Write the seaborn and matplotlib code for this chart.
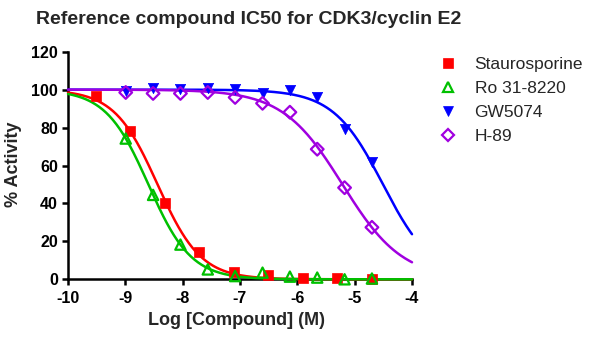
import numpy as np
import pandas as pd
import matplotlib
matplotlib.use("Agg")
import matplotlib.pyplot as plt
from matplotlib.lines import Line2D
import seaborn as sns

# ---- data ----
compounds = ["Staurosporine", "Ro 31-8220", "GW5074", "H-89"]

stauro_logc = [-9.515, -8.913, -8.311, -7.709, -7.107, -6.505, -5.903, -5.301, -4.699]
stauro_act = [96.8, 78.1, 40.1, 14.3, 3.8, 2.1, 0.9, 0.9, 0.4]

ro_logc = [-8.993, -8.516, -8.039, -7.562, -7.085, -6.607, -6.130, -5.653, -5.176, -4.699]
ro_act = [74.2, 44.5, 18.3, 5.2, 1.7, 3.5, 1.4, 0.9, 0.0, 0.4]

gw_logc = [-8.993, -8.516, -8.039, -7.562, -7.085, -6.607, -6.130, -5.653, -5.176, -4.699]
gw_act = [99.1, 100.9, 100.3, 100.9, 100.3, 98.0, 99.8, 95.9, 79.4, 61.9]

h89_logc = [-8.993, -8.516, -8.039, -7.562, -7.085, -6.607, -6.130, -5.653, -5.176, -4.699]
h89_act = [98.5, 98.0, 98.0, 98.5, 95.9, 92.8, 88.1, 68.6, 48.3, 27.4]

x_ticks = [-10, -9, -8, -7, -6, -5, -4]
y_ticks = [0, 20, 40, 60, 80, 100, 120]

colors = {"Staurosporine": "#FF0000", "Ro 31-8220": "#00C000",
          "GW5074": "#0000FF", "H-89": "#A000E0"}
markers = {"Staurosporine": "s", "Ro 31-8220": "^", "GW5074": "v", "H-89": "D"}
hollow = {"Staurosporine": False, "Ro 31-8220": True, "GW5074": False, "H-89": True}
msize = {"Staurosporine": 50, "Ro 31-8220": 55, "GW5074": 55, "H-89": 42}

points = pd.concat([
    pd.DataFrame({"compound": name, "logc": xs, "activity": ys})
    for name, xs, ys in [
        ("Staurosporine", stauro_logc, stauro_act),
        ("Ro 31-8220", ro_logc, ro_act),
        ("GW5074", gw_logc, gw_act),
        ("H-89", h89_logc, h89_act),
    ]
], ignore_index=True)


# ---- logistic dose-response fit (top 100, bottom 0) by grid search ----
def fit_curve(x, y, top=100.0):
    x = np.asarray(x)[None, None, :]
    y = np.asarray(y)
    cs = np.arange(-10.5, -3.0, 0.002)[:, None, None]
    hs = np.arange(0.5, 2.0, 0.005)[None, :, None]
    f = top / (1.0 + 10 ** (hs * (x - cs)))
    sse = ((f - y) ** 2).sum(-1)
    i, j = np.unravel_index(np.argmin(sse), sse.shape)
    return cs[i, 0, 0], hs[0, j, 0], top


xgrid = np.linspace(-10, -4, 300)
curves = []
for name in compounds:
    sub = points[points.compound == name]
    c, h, top = fit_curve(sub.logc.values, sub.activity.values)
    curves.append(pd.DataFrame({"compound": name, "logc": xgrid,
                                "activity": top / (1 + 10 ** (h * (xgrid - c)))}))
curves = pd.concat(curves, ignore_index=True)

# ---- plot ----
sns.set_theme(style="ticks")
plt.rcParams["font.family"] = ["Liberation Sans", "DejaVu Sans"]

fig = plt.figure(figsize=(6.0, 3.44), dpi=100)
ax = fig.add_axes([68 / 600, 1 - 279.3 / 344, (412 - 68) / 600, (279.3 - 51.7) / 344])

lw = 1.8
for name in compounds:
    sns.lineplot(data=curves[curves.compound == name], x="logc", y="activity",
                 color=colors[name], linewidth=lw, ax=ax, legend=False,
                 clip_on=False, zorder=4)
for name in compounds:
    sub = points[points.compound == name]
    if hollow[name]:
        sns.scatterplot(data=sub, x="logc", y="activity", marker=markers[name],
                        s=msize[name], facecolors="none", edgecolor=colors[name],
                        linewidth=1.6, ax=ax, legend=False, clip_on=False, zorder=5)
    else:
        sns.scatterplot(data=sub, x="logc", y="activity", marker=markers[name],
                        s=msize[name], color=colors[name], edgecolor=colors[name],
                        linewidth=0.5, ax=ax, legend=False, clip_on=False, zorder=5)

ax.set_xlim(-10, -4)
ax.set_ylim(0, 120)
ax.set_xticks(x_ticks)
ax.set_yticks(y_ticks)
ax.set_xticklabels([str(t) for t in x_ticks])
ax.set_yticklabels([str(t) for t in y_ticks])
for side in ["top", "right"]:
    ax.spines[side].set_visible(False)
for side in ["left", "bottom"]:
    ax.spines[side].set_linewidth(lw)
    ax.spines[side].set_color("black")
    ax.spines[side].set_zorder(3)
ax.tick_params(axis="both", direction="out", length=4.3, width=lw, color="black",
               labelsize=11.5, labelcolor="black")
ax.tick_params(axis="x", pad=4)
ax.tick_params(axis="y", pad=3)
for lab in ax.get_xticklabels() + ax.get_yticklabels():
    lab.set_fontweight("bold")
ax.set_xlabel("")
ax.set_ylabel("")

fig.text(249 / 600, 1 - 23.5 / 344, "Reference compound IC50 for CDK3/cyclin E2",
         ha="center", va="baseline", fontsize=14, fontweight="bold")
fig.text(236.7 / 600, 1 - 325 / 344, "Log [Compound] (M)", ha="center", va="baseline",
         fontsize=13, fontweight="bold")
fig.text(14 / 600, 1 - 164 / 344, "% Activity", ha="center", va="center",
         rotation=90, fontsize=13, fontweight="bold")

handles = []
for name in compounds:
    handles.append(Line2D([], [], linestyle="none", marker=markers[name],
                          markersize=7 if markers[name] != "D" else 6,
                          markerfacecolor="none" if hollow[name] else colors[name],
                          markeredgecolor=colors[name],
                          markeredgewidth=1.6 if hollow[name] else 0.5,
                          label=name))
fig.legend(handles=handles, loc="upper left", bbox_to_anchor=(439 / 600, 1 - 57 / 344),
           frameon=False, fontsize=12.5, handlelength=1.0, handletextpad=1.05,
           labelspacing=0.5, borderpad=0, borderaxespad=0)

fig.savefig("out.png", dpi=100)
